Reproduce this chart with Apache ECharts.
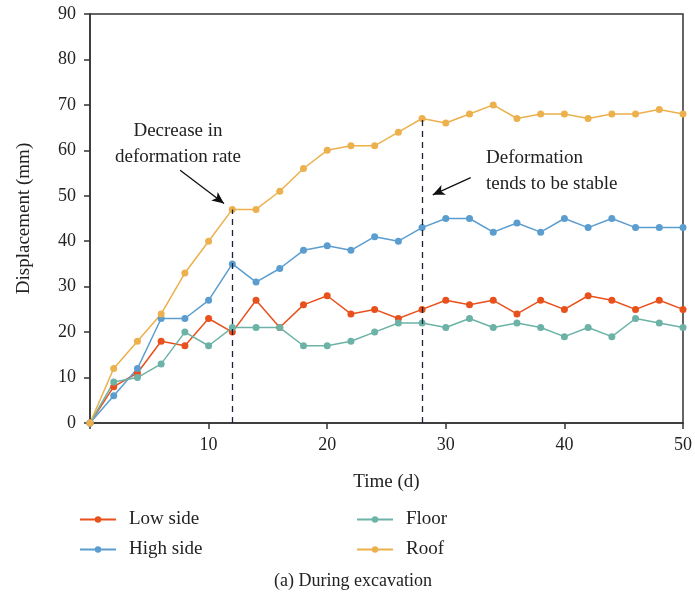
<!DOCTYPE html>
<html>
<head>
<meta charset="utf-8">
<script src="https://cdn.jsdelivr.net/npm/echarts@6/dist/echarts.min.js"></script>
<style>
  html, body { margin: 0; padding: 0; background: #fff; }
  #chart { width: 695px; height: 606px; }
</style>
</head>
<body>
<div id="chart"></div>
<script>
var days = [0, 2, 4, 6, 8, 10, 12, 14, 16, 18, 20, 22, 24, 26, 28, 30, 32, 34, 36, 38, 40, 42, 44, 46, 48, 50];
var lowSide = [0, 8, 11, 18, 17, 23, 20, 27, 21, 26, 28, 24, 25, 23, 25, 27, 26, 27, 24, 27, 25, 28, 27, 25, 27, 25];
var highSide = [0, 6, 12, 23, 23, 27, 35, 31, 34, 38, 39, 38, 41, 40, 43, 45, 45, 42, 44, 42, 45, 43, 45, 43, 43, 43];
var floor = [0, 9, 10, 13, 20, 17, 21, 21, 21, 17, 17, 18, 20, 22, 22, 21, 23, 21, 22, 21, 19, 21, 19, 23, 22, 21];
var roof = [0, 12, 18, 24, 33, 40, 47, 47, 51, 56, 60, 61, 61, 64, 67, 66, 68, 70, 67, 68, 68, 67, 68, 68, 69, 68];
var markDays = [12, 28];

(function () {
  var chartDom = document.getElementById('chart');
  var myChart = echarts.init(chartDom);
  var option;
  var font = 'Liberation Serif';
  var ink = '#222';

  function pairs(ys) {
    return days.map(function (d, i) { return [d, ys[i]]; });
  }
  function roofAt(d) {
    return roof[days.indexOf(d)];
  }

  function line(name, color, ys) {
    return {
      name: name,
      type: 'line',
      data: pairs(ys),
      symbol: 'circle',
      symbolSize: 7,
      color: color,
      lineStyle: { width: 1.5, color: color },
      itemStyle: { color: color }
    };
  }

  var roofSeries = line('Roof', '#ecb04c', roof);
  roofSeries.markLine = {
    silent: true,
    symbol: ['none', 'none'],
    label: { show: false },
    lineStyle: { type: [6, 5], color: '#1b2238', width: 1.3 },
    data: markDays.map(function (d) {
      return [{ coord: [d, 0] }, { coord: [d, roofAt(d)] }];
    }).concat([
      [{ coord: [7.6, 55.6], symbol: 'none' }, { coord: [11.3, 48.3], symbol: 'arrow', symbolSize: [8, 12] }],
      [{ coord: [32.1, 54.0], symbol: 'none' }, { coord: [28.9, 50.2], symbol: 'arrow', symbolSize: [8, 12] }]
    ].map(function (p) {
      p[0].lineStyle = { type: 'solid', color: '#111', width: 1.3 };
      return p;
    }))
  };

  var legendText = { fontFamily: font, fontSize: 19, color: ink, padding: [0, 0, 0, 8] };

  option = {
    backgroundColor: '#fff',
    textStyle: { fontFamily: font },
    animation: false,
    grid: {
      left: 90, right: 10, top: 14, bottom: 183,
      show: true, borderColor: '#333', borderWidth: 1.5
    },
    legend: [
      {
        orient: 'vertical', left: 74, top: 505, itemGap: 11,
        itemWidth: 36, itemHeight: 8,
        textStyle: legendText,
        data: ['Low side', 'High side']
      },
      {
        orient: 'vertical', left: 351, top: 505, itemGap: 11,
        itemWidth: 36, itemHeight: 8,
        textStyle: legendText,
        data: ['Floor', 'Roof']
      }
    ],
    xAxis: {
      type: 'value', min: 0, max: 50, interval: 10,
      name: 'Time (d)', nameLocation: 'middle', nameGap: 50,
      nameTextStyle: { fontFamily: font, fontSize: 19, color: ink },
      axisLine: { lineStyle: { color: '#333', width: 1.5 } },
      axisTick: { show: true, length: 6, lineStyle: { color: '#333', width: 1.5 } },
      axisLabel: {
        fontFamily: font, fontSize: 18, color: ink, margin: 13,
        formatter: function (v) { return v === 0 ? '' : v; }
      },
      splitLine: { show: false }
    },
    yAxis: {
      type: 'value', min: 0, max: 90, interval: 10,
      name: 'Displacement (mm)', nameLocation: 'middle', nameGap: 56,
      nameTextStyle: { fontFamily: font, fontSize: 19, color: ink },
      axisLine: { show: true, lineStyle: { color: '#333', width: 1.5 } },
      axisTick: { show: true, length: 6, lineStyle: { color: '#333', width: 1.5 } },
      axisLabel: { fontFamily: font, fontSize: 18, color: ink, margin: 14 },
      splitLine: { show: false }
    },
    graphic: [
      {
        type: 'text', x: 353, y: 572,
        style: { text: '(a) During excavation', font: '18px "Liberation Serif"', fill: ink, align: 'center' }
      },
      {
        type: 'text', x: 178, y: 118,
        style: {
          text: 'Decrease in\ndeformation rate', font: '19px "Liberation Serif"', fill: ink,
          align: 'center', lineHeight: 26
        }
      },
      {
        type: 'text', x: 486, y: 145,
        style: {
          text: 'Deformation\ntends to be stable', font: '19px "Liberation Serif"', fill: ink,
          align: 'left', lineHeight: 26
        }
      }
    ],
    series: [
      line('Low side', '#e8511c', lowSide),
      line('High side', '#5b9dcf', highSide),
      line('Floor', '#6cb2a6', floor),
      roofSeries
    ]
  };

  option && myChart.setOption(option);
})();
</script>
</body>
</html>
